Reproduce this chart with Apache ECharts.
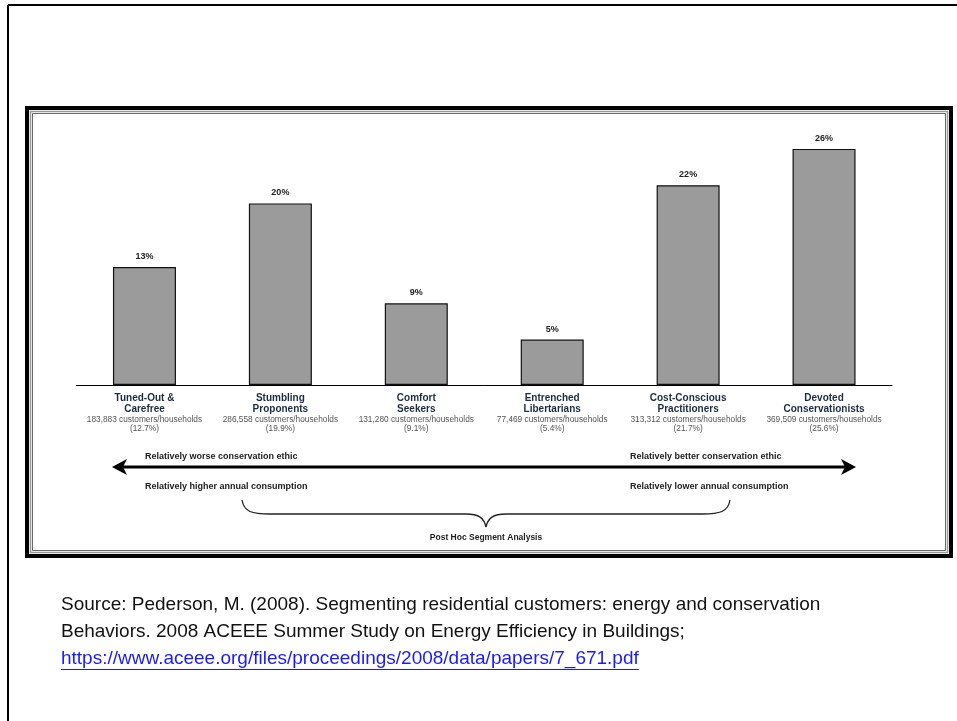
<!DOCTYPE html>
<html>
<head>
<meta charset="utf-8">
<script src="https://cdn.jsdelivr.net/npm/echarts@6/dist/echarts.min.js"></script>
<style>
  html, body { margin: 0; padding: 0; background: #fff; }
  #chart { width: 957px; height: 721px; }
</style>
</head>
<body>
<div id="chart"></div>
<script>
// Segment names, share of customers, and the household counts under each name
const segments = [
  'Tuned-Out &\nCarefree',
  'Stumbling\nProponents',
  'Comfort\nSeekers',
  'Entrenched\nLibertarians',
  'Cost-Conscious\nPractitioners',
  'Devoted\nConservationists'
];
const sharePct = [13, 20, 9, 5, 22, 26];
const households = ['183,883', '286,558', '131,280', '77,469', '313,312', '369,509'];
const householdPct = ['(12.7%)', '(19.9%)', '(9.1%)', '(5.4%)', '(21.7%)', '(25.6%)'];

const sourceLines = [
  'Source: Pederson, M. (2008). Segmenting residential customers: energy and conservation',
  'Behaviors. 2008 ACEEE Summer Study on Energy Efficiency in Buildings;'
];
const sourceLink = 'https://www.aceee.org/files/proceedings/2008/data/papers/7_671.pdf';

const labelFont = "'Liberation Sans Narrow', 'Liberation Sans', Arial, sans-serif";
const sourceFont = "'Liberation Sans', Arial, sans-serif";
const sourceSize = 19;

const chart = echarts.init(document.getElementById('chart'), null, { renderer: 'canvas' });

// width of the link text, for its underline
const ctx = document.createElement('canvas').getContext('2d');
ctx.font = sourceSize + 'px ' + sourceFont;
const linkWidth = ctx.measureText(sourceLink).width;

function axisLabel(value, idx) {
  const parts = value.split('\n');
  return '{name|' + parts[0] + '}\n{name|' + parts[1] + '}\n{sub|' +
    households[idx] + ' customers/households}\n{sub|' + householdPct[idx] + '}';
}

const braceStyle = { fill: 'none', stroke: '#222', lineWidth: 1.3 };
const noteFont = 'bold 9px ' + labelFont;

chart.setOption({
  animation: false,
  grid: { left: 76.5, right: 65, top: 112.6, bottom: 336 },
  xAxis: {
    type: 'category',
    data: segments,
    axisLine: { show: true, lineStyle: { color: '#000', width: 1 } },
    axisTick: { show: false },
    axisLabel: {
      interval: 0,
      margin: 8,
      formatter: axisLabel,
      rich: {
        name: { fontFamily: labelFont, fontWeight: 'bold', fontSize: 10, color: '#1e2a40', lineHeight: 11 },
        sub: { fontFamily: labelFont, fontSize: 8.3, color: '#555', lineHeight: 9 }
      }
    }
  },
  yAxis: { type: 'value', min: 0, max: 30, show: false },
  series: [{
    type: 'bar',
    data: sharePct,
    barWidth: 63,
    itemStyle: { color: '#9b9b9b', borderColor: '#111', borderWidth: 1.2 },
    label: {
      show: true,
      position: 'top',
      distance: 6,
      formatter: '{c}%',
      fontFamily: labelFont,
      fontWeight: 'bold',
      fontSize: 9,
      color: '#222'
    }
  }],
  graphic: [
    // slide border
    { type: 'line', shape: { x1: 8, y1: 5, x2: 8, y2: 721 }, style: { stroke: '#000', lineWidth: 2 } },
    { type: 'line', shape: { x1: 8, y1: 5, x2: 957, y2: 5 }, style: { stroke: '#000', lineWidth: 2 } },
    // picture frame
    { type: 'rect', shape: { x: 27, y: 108, width: 924, height: 448 }, style: { fill: 'none', stroke: '#000', lineWidth: 4 } },
    { type: 'rect', shape: { x: 30.5, y: 111.5, width: 917, height: 441 }, style: { fill: 'none', stroke: '#999', lineWidth: 1.5 } },
    { type: 'rect', shape: { x: 32.5, y: 113.5, width: 913, height: 437 }, style: { fill: 'none', stroke: '#444', lineWidth: 0.8 } },
    // double-headed arrow
    { type: 'line', shape: { x1: 120, y1: 467, x2: 848, y2: 467 }, style: { stroke: '#000', lineWidth: 3 } },
    { type: 'polygon', shape: { points: [[112, 467], [127, 459], [123, 467], [127, 475]] }, style: { fill: '#000' } },
    { type: 'polygon', shape: { points: [[856, 467], [841, 459], [845, 467], [841, 475]] }, style: { fill: '#000' } },
    // annotation texts
    { type: 'text', x: 145, y: 457, style: { text: 'Relatively worse conservation ethic', font: noteFont, fill: '#222', textVerticalAlign: 'middle' } },
    { type: 'text', x: 630, y: 457, style: { text: 'Relatively better conservation ethic', font: noteFont, fill: '#222', textVerticalAlign: 'middle' } },
    { type: 'text', x: 145, y: 487, style: { text: 'Relatively higher annual consumption', font: noteFont, fill: '#222', textVerticalAlign: 'middle' } },
    { type: 'text', x: 630, y: 487, style: { text: 'Relatively lower annual consumption', font: noteFont, fill: '#222', textVerticalAlign: 'middle' } },
    // brace gathering the middle segments
    { type: 'bezierCurve', shape: { x1: 242, y1: 500, cpx1: 244, cpy1: 512, cpx2: 252, cpy2: 514, x2: 270, y2: 514 }, style: braceStyle },
    { type: 'line', shape: { x1: 270, y1: 514, x2: 466, y2: 514 }, style: braceStyle },
    { type: 'bezierCurve', shape: { x1: 466, y1: 514, cpx1: 479, cpy1: 514, cpx2: 484, cpy2: 518, x2: 486, y2: 527 }, style: braceStyle },
    { type: 'bezierCurve', shape: { x1: 486, y1: 527, cpx1: 488, cpy1: 518, cpx2: 493, cpy2: 514, x2: 506, y2: 514 }, style: braceStyle },
    { type: 'line', shape: { x1: 506, y1: 514, x2: 702, y2: 514 }, style: braceStyle },
    { type: 'bezierCurve', shape: { x1: 702, y1: 514, cpx1: 720, cpy1: 514, cpx2: 728, cpy2: 512, x2: 730, y2: 500 }, style: braceStyle },
    { type: 'text', x: 486, y: 538, style: { text: 'Post Hoc Segment Analysis', font: 'bold 8.5px ' + labelFont, fill: '#222', textAlign: 'center', textVerticalAlign: 'middle' } },
    // source note
    { type: 'text', x: 61, y: 605, style: { text: sourceLines[0], font: sourceSize + 'px ' + sourceFont, fill: '#111', textVerticalAlign: 'middle' } },
    { type: 'text', x: 61, y: 632, style: { text: sourceLines[1], font: sourceSize + 'px ' + sourceFont, fill: '#111', textVerticalAlign: 'middle' } },
    { type: 'text', x: 61, y: 659, style: { text: sourceLink, font: sourceSize + 'px ' + sourceFont, fill: '#1a1aff', textVerticalAlign: 'middle' } },
    { type: 'line', shape: { x1: 61, y1: 669.5, x2: 61 + linkWidth, y2: 669.5 }, style: { stroke: '#1a1aff', lineWidth: 1 } }
  ]
});
</script>
</body>
</html>
